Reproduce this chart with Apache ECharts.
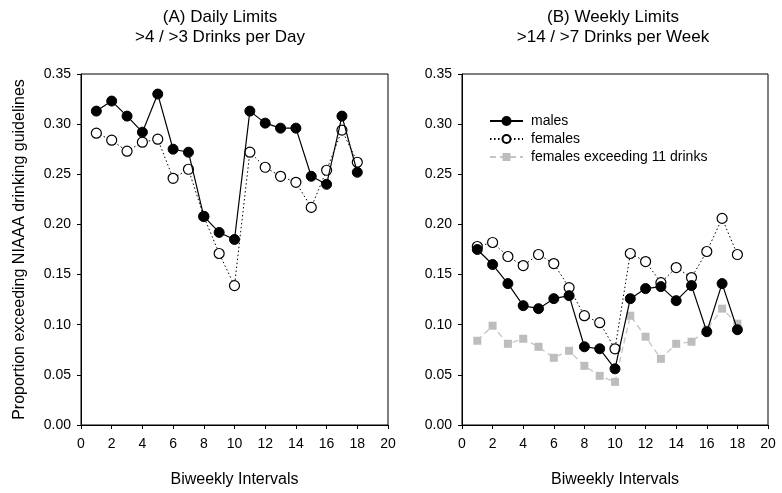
<!DOCTYPE html>
<html>
<head>
<meta charset="utf-8">
<script src="https://cdn.jsdelivr.net/npm/echarts@6/dist/echarts.min.js"></script>
<style>
  html, body { margin: 0; padding: 0; background: #fff; }
  #main { width: 782px; height: 493px; }
</style>
</head>
<body>
<div id="main"></div>
<script>
var intervals = [1, 2, 3, 4, 5, 6, 7, 8, 9, 10, 11, 12, 13, 14, 15, 16, 17, 18];

// (A) daily limits
var dailyMales = [0.313, 0.323, 0.308, 0.292, 0.330, 0.275, 0.272, 0.208, 0.192, 0.185,
                  0.313, 0.301, 0.296, 0.296, 0.248, 0.240, 0.308, 0.252];
var dailyFemales = [0.291, 0.284, 0.273, 0.282, 0.285, 0.246, 0.255, 0.208, 0.171, 0.139,
                    0.272, 0.257, 0.248, 0.242, 0.217, 0.254, 0.294, 0.262];

// (B) weekly limits
var weeklyMales = [0.175, 0.160, 0.141, 0.119, 0.116, 0.126, 0.129, 0.078, 0.076, 0.056,
                   0.126, 0.136, 0.138, 0.124, 0.139, 0.093, 0.141, 0.095];
var weeklyFemales = [0.178, 0.182, 0.168, 0.159, 0.170, 0.161, 0.137, 0.109, 0.102, 0.076,
                     0.171, 0.163, 0.142, 0.157, 0.147, 0.173, 0.206, 0.170];
var weeklyFemales11 = [0.084, 0.099, 0.081, 0.086, 0.078, 0.067, 0.074, 0.059, 0.049, 0.043,
                       0.109, 0.088, 0.066, 0.081, 0.083, 0.095, 0.116, 0.101];

var FONT = "'Liberation Sans', Arial, sans-serif";

function pairs(ys) {
  return intervals.map(function (x, i) { return [x, ys[i]]; });
}

function xAxisFor(idx) {
  return {
    type: 'value', gridIndex: idx, min: 0, max: 20, interval: 2,
    name: 'Biweekly Intervals', nameLocation: 'middle', nameGap: 47,
    nameTextStyle: { fontFamily: FONT, fontSize: 16, color: '#000' },
    axisLine: { show: true, onZero: false, lineStyle: { color: '#000', width: 1 } },
    axisTick: { show: true, inside: false, length: 4, lineStyle: { color: '#000' } },
    axisLabel: { fontFamily: FONT, fontSize: 14, color: '#000', margin: 12 },
    splitLine: { show: false }
  };
}

function yAxisFor(idx, withName) {
  var a = {
    type: 'value', gridIndex: idx, min: 0, max: 0.35, interval: 0.05,
    axisLine: { show: true, lineStyle: { color: '#000', width: 1 } },
    axisTick: { show: true, inside: false, length: 4, lineStyle: { color: '#000' } },
    axisLabel: {
      fontFamily: FONT, fontSize: 14, color: '#000', margin: 10,
      formatter: function (v) { return v.toFixed(2); }
    },
    splitLine: { show: false }
  };
  if (withName) {
    a.name = 'Proportion exceeding NIAAA drinking guidelines';
    a.nameLocation = 'middle';
    a.nameGap = 53;
    a.nameTextStyle = { fontFamily: FONT, fontSize: 16, color: '#000' };
  }
  return a;
}

function maleSeries(name, xi, data) {
  return {
    name: name, type: 'line', xAxisIndex: xi, yAxisIndex: xi,
    data: pairs(data), symbol: 'circle', symbolSize: 10,
    itemStyle: { color: '#000', borderColor: '#000', borderWidth: 1 },
    lineStyle: { color: '#000', width: 1.2, type: 'solid' },
    z: 4
  };
}

function femaleSeries(name, xi, data) {
  return {
    name: name, type: 'line', xAxisIndex: xi, yAxisIndex: xi,
    data: pairs(data), symbol: 'circle', symbolSize: 10,
    itemStyle: { color: '#fff', borderColor: '#000', borderWidth: 1.2 },
    lineStyle: { color: '#000', width: 1, type: [1.5, 2.5] },
    z: 3
  };
}

var chart = echarts.init(document.getElementById('main'));

var titleStyle = { fontFamily: FONT, fontSize: 17, fontWeight: 'normal', color: '#000', lineHeight: 20 };

var option = {
  animation: false,
  backgroundColor: '#fff',
  textStyle: { fontFamily: FONT },
  title: [
    {
      text: '(A) Daily Limits\n>4 / >3 Drinks per Day',
      left: 220, top: 7, padding: 0, textAlign: 'center',
      textStyle: titleStyle
    },
    {
      text: '(B) Weekly Limits\n>14 / >7 Drinks per Week',
      left: 613, top: 7, padding: 0, textAlign: 'center',
      textStyle: titleStyle
    }
  ],
  legend: {
    orient: 'vertical', left: 489, top: 112, padding: 0,
    itemWidth: 33, itemHeight: 10, itemGap: 0,
    textStyle: { fontFamily: FONT, fontSize: 14, color: '#000', lineHeight: 18, padding: [0, 0, 0, 3] },
    data: ['males', 'females', 'females exceeding 11 drinks']
  },
  grid: [
    { left: 81, top: 74, width: 307, height: 358, show: true, borderColor: '#000', borderWidth: 1, backgroundColor: 'transparent' },
    { left: 462, top: 74, width: 306, height: 358, show: true, borderColor: '#000', borderWidth: 1, backgroundColor: 'transparent' }
  ],
  xAxis: [xAxisFor(0), xAxisFor(1)],
  yAxis: [yAxisFor(0, true), yAxisFor(1, false)],
  series: [
    maleSeries('males', 0, dailyMales),
    femaleSeries('females', 0, dailyFemales),
    maleSeries('males', 1, weeklyMales),
    femaleSeries('females', 1, weeklyFemales),
    {
      name: 'females exceeding 11 drinks', type: 'line', xAxisIndex: 1, yAxisIndex: 1,
      data: pairs(weeklyFemales11), symbol: 'rect', symbolSize: 8,
      itemStyle: { color: '#bdbdbd', borderWidth: 0 },
      lineStyle: { color: '#c4c4c4', width: 1.3, type: [6, 4] },
      z: 2
    }
  ]
};

chart.setOption(option);
</script>
</body>
</html>
